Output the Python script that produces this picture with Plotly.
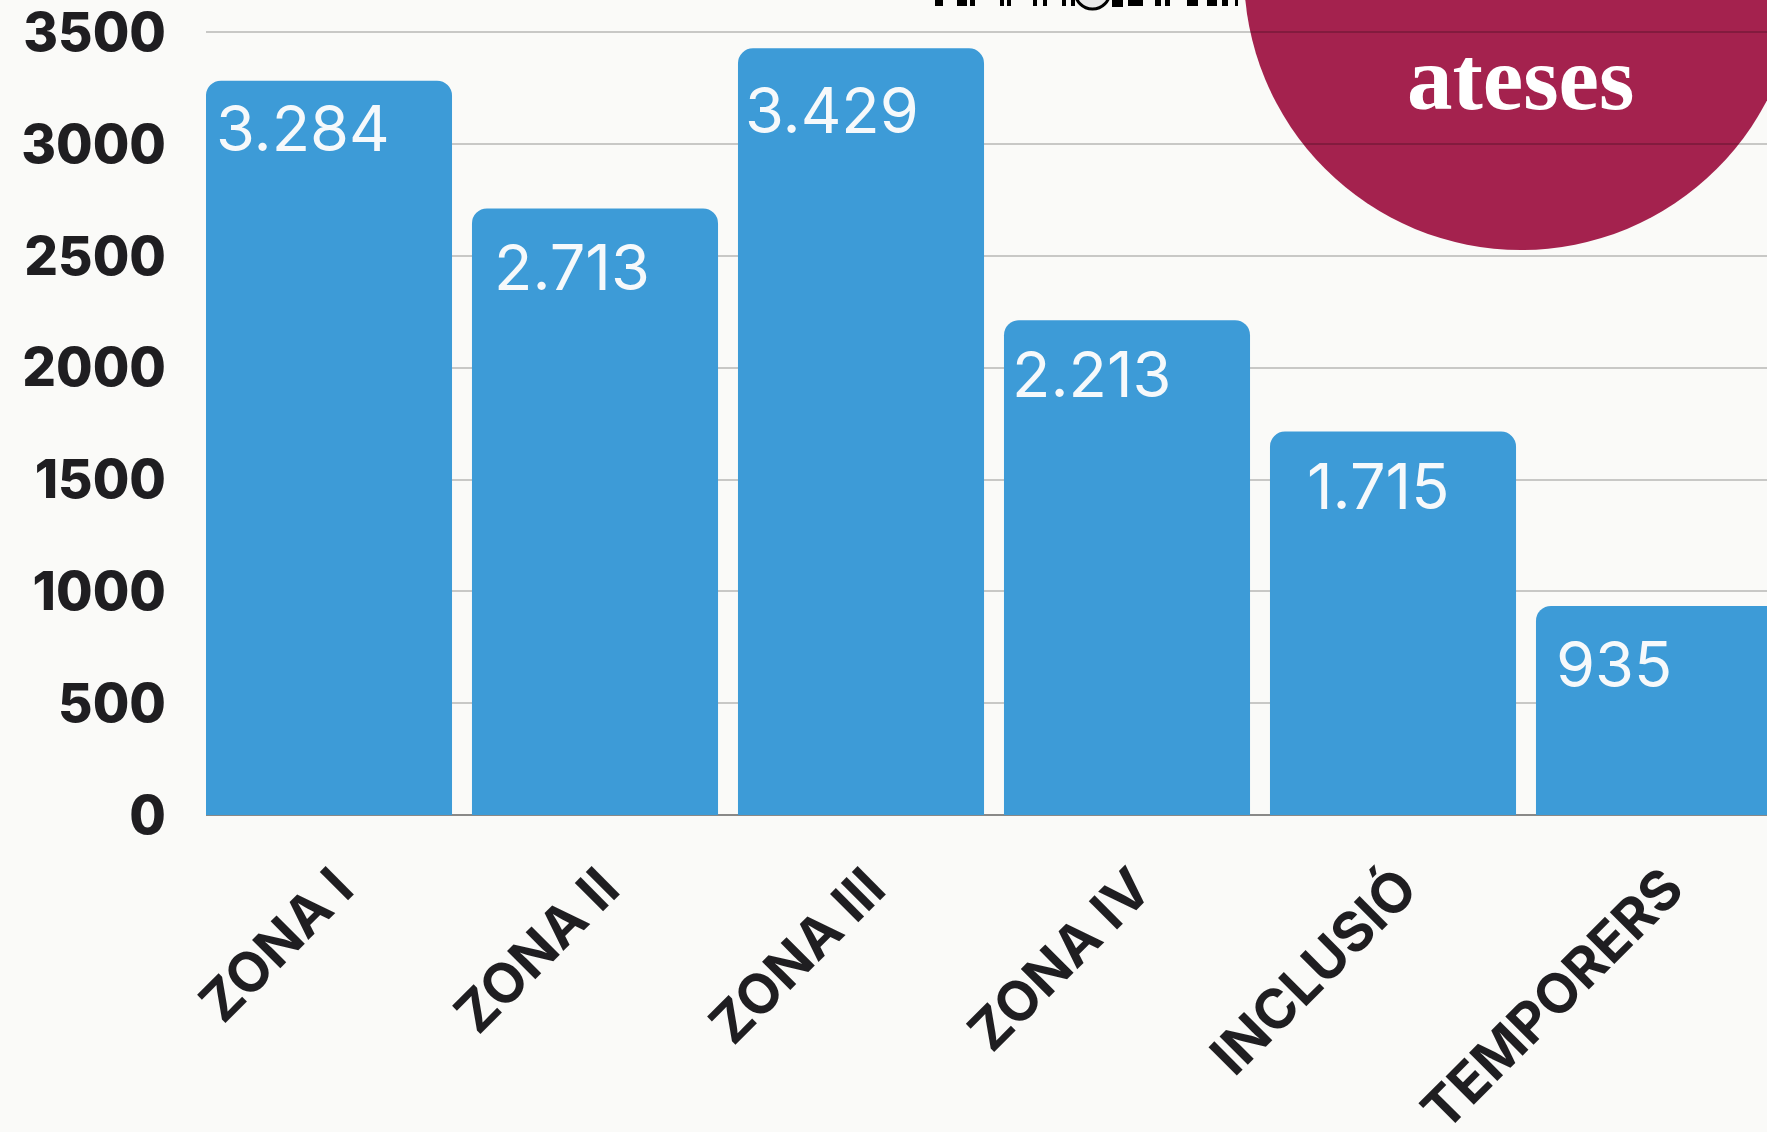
import plotly.graph_objects as go

categories = ["ZONA I", "ZONA II", "ZONA III", "ZONA IV", "INCLUSIÓ", "TEMPORERS"]
values = [3284, 2713, 3429, 2213, 1715, 935]
value_labels = ["3.284", "2.713", "3.429", "2.213", "1.715", "935"]
y_ticks = [0, 500, 1000, 1500, 2000, 2500, 3000, 3500]

W, H = 1767, 1132
LEFT, BASE = 206, 815
BLUE = "#3D9BD7"
BG = "#FAFAF8"
INK = "#1F1E21"
SANS = "Inter, 'Open Sans', sans-serif"

# label offsets inside each bar: from its left edge, and below its top
label_dx = [7, 19, 4, 5, 34, 17]
label_dy = [47, 59, 62, 54, 54, 58]

px = lambda v: (v - LEFT) / (W - LEFT)
py = lambda v: (BASE - v) / BASE

fig = go.Figure(go.Bar(
    x=list(range(len(categories))), y=values,
    width=0.925, marker=dict(color=BLUE, line=dict(width=0)), hoverinfo="skip",
))

annotations = [
    dict(x=i - 0.46, y=v, xref="x", yref="y", text=t, showarrow=False,
         xanchor="left", yanchor="middle", xshift=dx, yshift=-dy,
         font=dict(family=SANS, size=63, color="#F6F9FB", weight=400))
    for i, (v, t, dx, dy) in enumerate(zip(values, value_labels, label_dx, label_dy))
]
annotations.append(dict(
    x=px(1520), y=py(78), xref="paper", yref="paper", text="ateses", showarrow=False,
    xanchor="center", yanchor="middle",
    font=dict(family="'Liberation Serif', serif", size=91, color="white", weight=700)))

shapes = [dict(type="circle", xref="paper", yref="paper", layer="below",
               x0=px(1521 - 277), x1=px(1521 + 277), y0=py(250), y1=py(250 - 554),
               fillcolor="#A4224E", line=dict(width=0))]
# the bottom edge of the row of cropped pictograms at the top of the page
for a, b, h in [(935, 943, 6), (957, 967, 6), (970, 975, 6), (1000, 1004, 6), (1007, 1011, 6),
                (1033, 1037, 6), (1043, 1047, 6), (1062, 1066, 6), (1071, 1075, 6),
                (1112, 1123, 7), (1128, 1143, 6), (1155, 1161, 6), (1165, 1170, 6),
                (1187, 1198, 6), (1207, 1217, 6), (1222, 1228, 6), (1235, 1238, 6)]:
    shapes.append(dict(type="rect", xref="paper", yref="paper", x0=px(a), x1=px(b), y0=py(h), y1=py(0),
                       fillcolor="black", line=dict(width=0)))
shapes.append(dict(type="circle", xref="paper", yref="paper", x0=px(1075), x1=px(1110), y0=py(9), y1=py(-26),
                   fillcolor="#E8E8E8", line=dict(color="black", width=3)))

fig.update_layout(
    width=W, height=H, autosize=False,
    margin=dict(l=LEFT, r=0, t=0, b=H - BASE, pad=0),
    paper_bgcolor=BG, plot_bgcolor="rgba(0,0,0,0)",
    barcornerradius=15, showlegend=False,
    annotations=annotations, shapes=shapes,
    xaxis=dict(range=[-0.4624, 5.406], tickmode="array", tickvals=list(range(len(categories))),
               ticktext=categories, tickangle=-45, showgrid=False, showline=False, ticks="",
               ticklabelstandoff=29, ticklabelshift=8, ticklabeloverflow="allow",
               tickfont=dict(family=SANS, size=55, color=INK, weight=700), automargin=False),
    yaxis=dict(range=[0, 3645], tickmode="array", tickvals=y_ticks, ticktext=[str(v) for v in y_ticks],
               gridcolor="rgba(0,0,0,0.2)", gridwidth=1.5, zeroline=True,
               zerolinecolor="rgba(0,0,0,0.45)", zerolinewidth=1.5, showline=False, ticks="",
               ticklabelstandoff=39, ticklabeloverflow="allow",
               tickfont=dict(family=SANS, size=53, color=INK, weight=800), automargin=False),
)

fig.write_html("out.html", config=dict(displayModeBar=False),
               post_script="document.body.style.margin='0';document.documentElement.style.overflow='hidden';")
